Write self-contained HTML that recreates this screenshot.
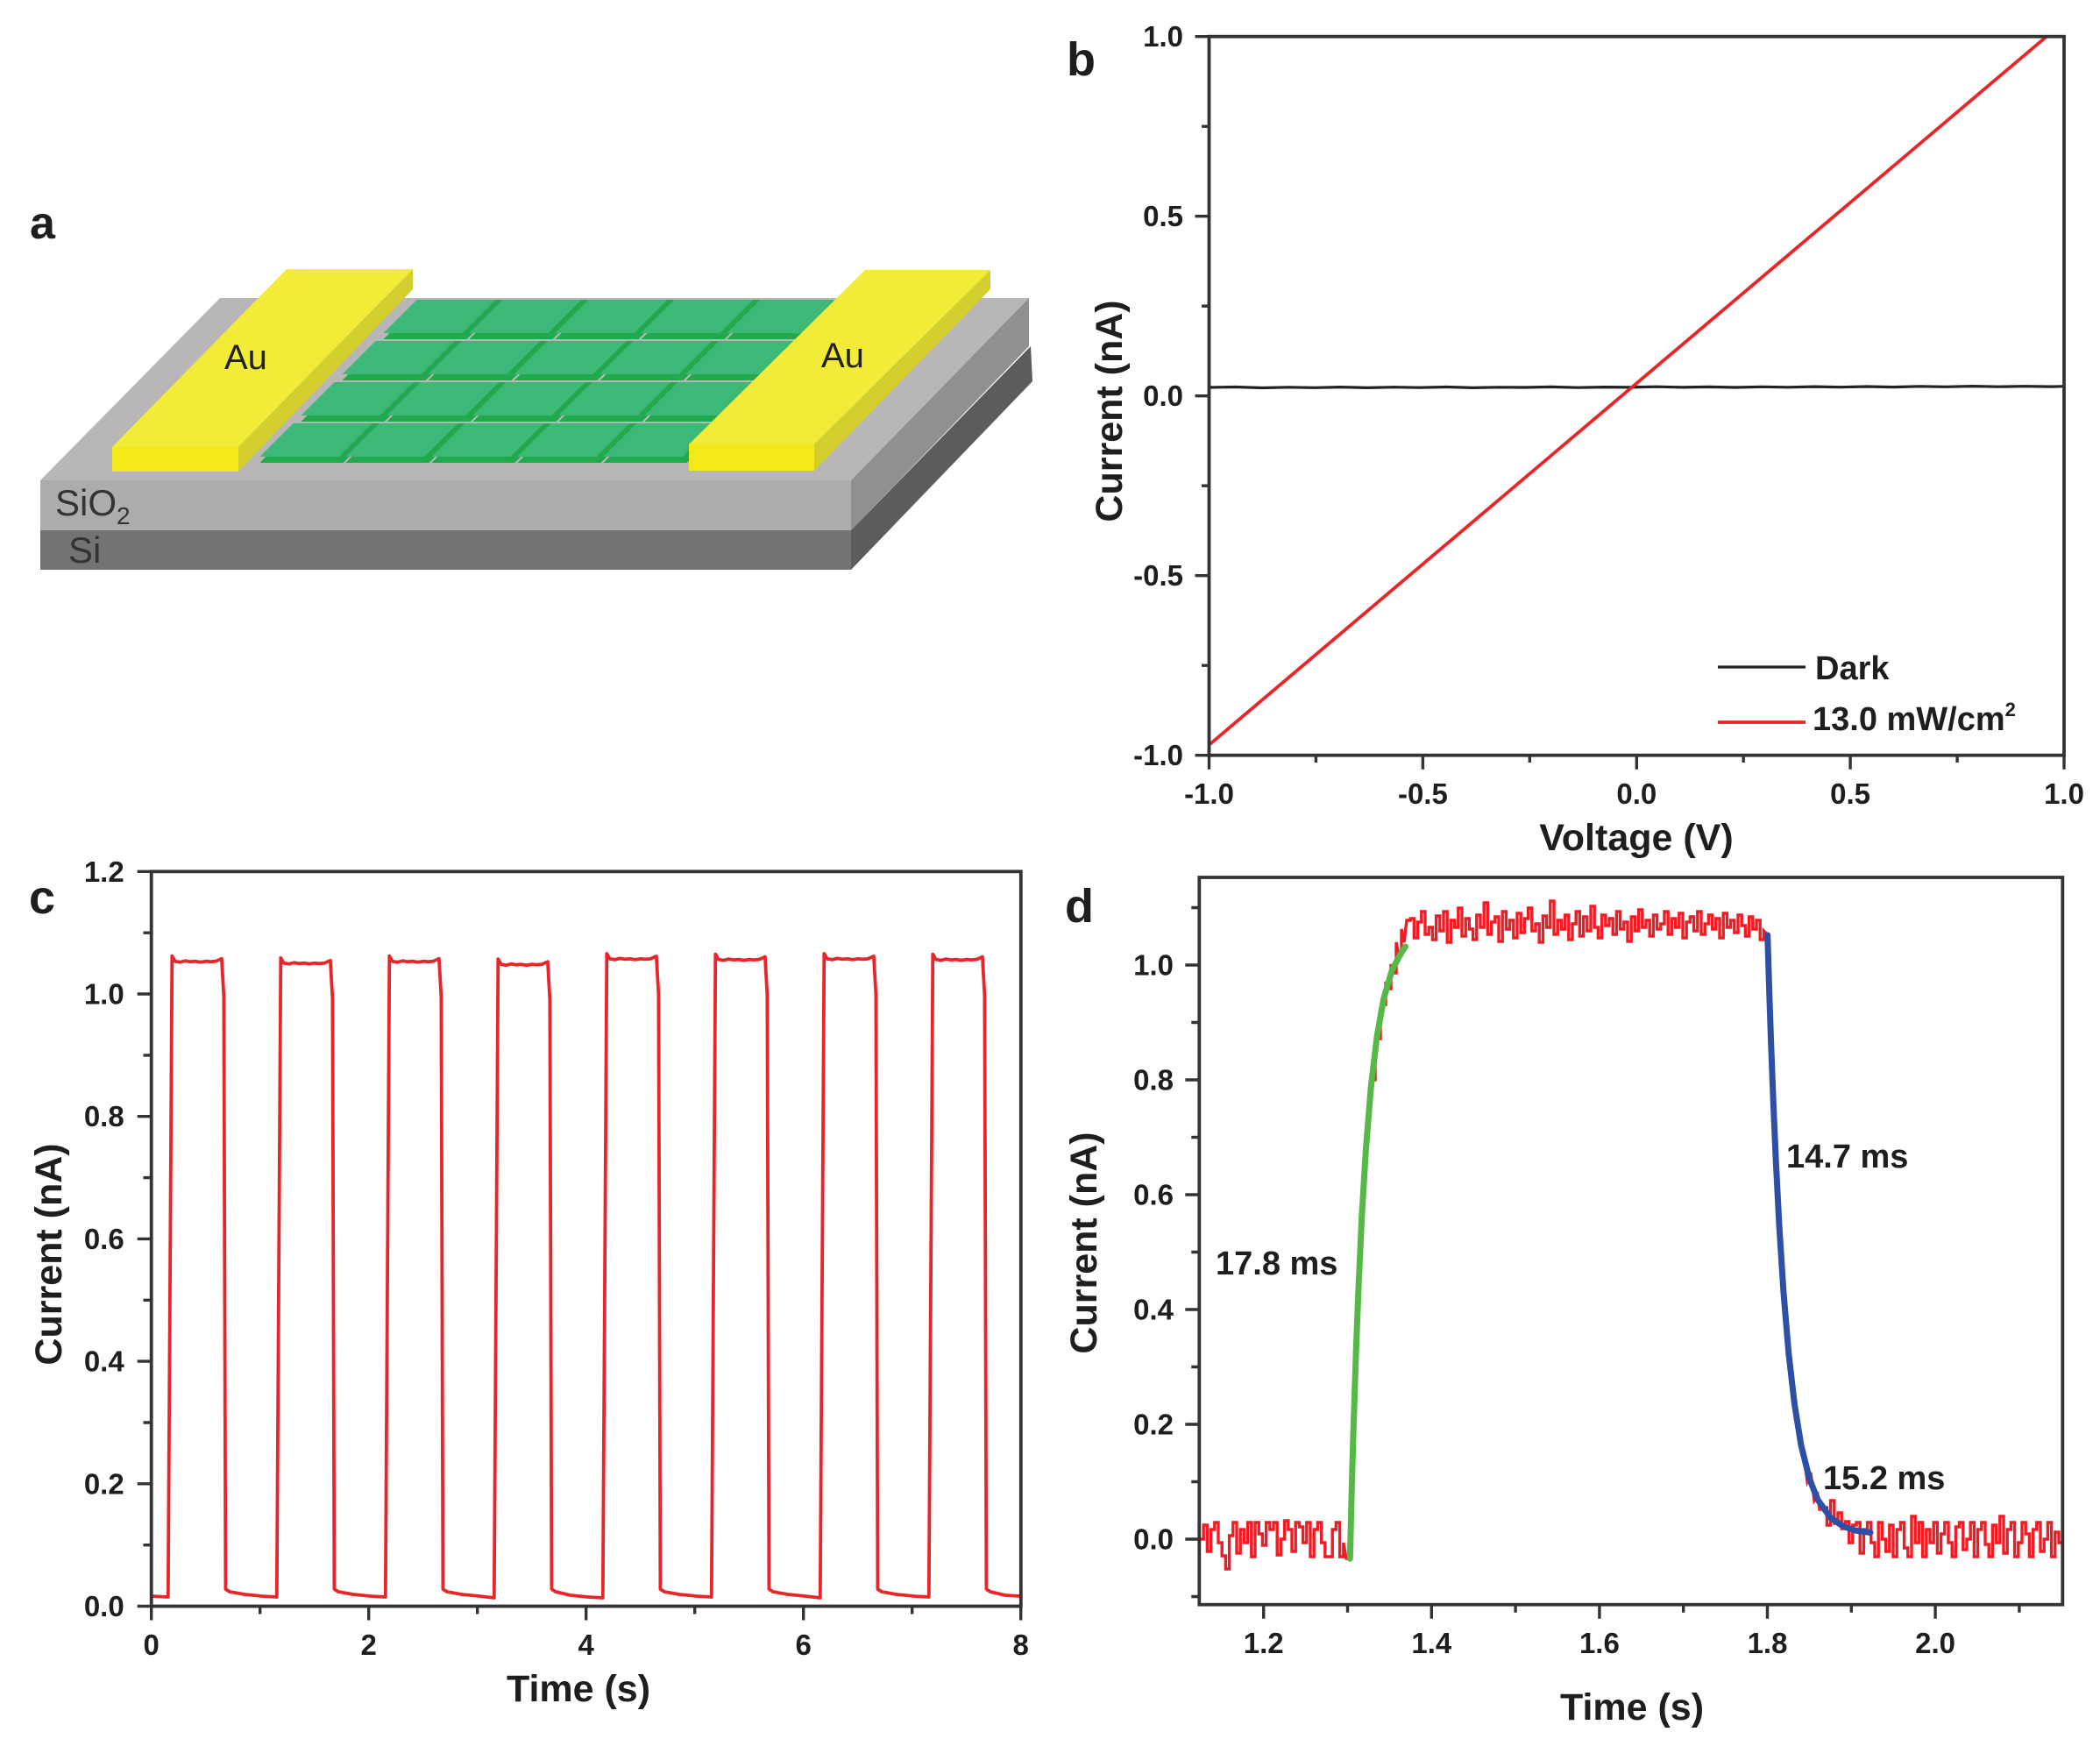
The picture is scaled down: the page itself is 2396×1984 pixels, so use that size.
<!DOCTYPE html>
<html>
<head>
<meta charset="utf-8">
<style>
  html,body{margin:0;padding:0;background:#fff;}
  svg{display:block;}
  text{font-family:"Liberation Sans",Arial,sans-serif;fill:#1e1e1e;}
  .tick{font-size:33px;font-weight:bold;}
  .ax{font-size:43px;font-weight:bold;}
  .pl{font-size:54px;font-weight:bold;}
</style>
</head>
<body>
<svg width="2396" height="1984" viewBox="0 0 2396 1984" xmlns="http://www.w3.org/2000/svg">
  <defs>
    <g id="tile">
      <polygon points="1.5,0 96.5,0 141.5,-45 46.5,-45" fill="#22a94d"/>
      <polygon points="1.5,-7 91.5,-7 129.5,-45 39.5,-45" fill="#3cb877"/>
    </g>
  </defs>

  <!-- ============ PANEL A ============ -->
  <polygon points="46,548 971,548 1174,340 251,340" fill="#b8b6b6"/>
  <polygon points="46,548 971,548 971,605 46,605" fill="#adabab"/>
  <polygon points="46,605 971,605 971,650 46,650" fill="#757272"/>
  <polygon points="971,548 1174,340 1174,395 971,605" fill="#918f8f"/>
  <polygon points="971,605 1176,395 1178,435 971,650" fill="#5d5b5b"/>
  <use href="#tile" x="295" y="528"/><use href="#tile" x="393" y="528"/><use href="#tile" x="491" y="528"/><use href="#tile" x="589" y="528"/><use href="#tile" x="687" y="528"/>
  <use href="#tile" x="342" y="481"/><use href="#tile" x="440" y="481"/><use href="#tile" x="538" y="481"/><use href="#tile" x="636" y="481"/><use href="#tile" x="734" y="481"/>
  <use href="#tile" x="389" y="434"/><use href="#tile" x="487" y="434"/><use href="#tile" x="585" y="434"/><use href="#tile" x="683" y="434"/><use href="#tile" x="781" y="434"/>
  <use href="#tile" x="436" y="387"/><use href="#tile" x="534" y="387"/><use href="#tile" x="632" y="387"/><use href="#tile" x="730" y="387"/><use href="#tile" x="828" y="387"/>
  <polygon points="128,510 272,510 471,307 327,307" fill="#f2eb38"/>
  <polygon points="128,510 272,510 272,538 128,538" fill="#f3e81a"/>
  <polygon points="272,510 471,307 471,330 272,538" fill="#d3cf2e"/>
  <polygon points="786,507 929,507 1130,308 987,308" fill="#f2eb38"/>
  <polygon points="786,507 929,507 929,537 786,537" fill="#f3e81a"/>
  <polygon points="929,507 1130,308 1130,330 929,537" fill="#d3cf2e"/>
  <text x="34" y="272" style="font-size:52px;font-weight:bold;">a</text>
  <text x="256" y="421" style="font-size:40px;fill:#222;">Au</text>
  <text x="937" y="419" style="font-size:40px;fill:#222;">Au</text>
  <text x="63" y="588" style="font-size:42px;fill:#333;">SiO<tspan dy="10" style="font-size:28px;">2</tspan></text>
  <text x="78" y="642" style="font-size:42px;fill:#333;">Si</text>

  <!-- ============ PANEL B ============ -->
  <path d="M1380,442 L1410,441.5 L1440,442.5 L1470,441.8 L1500,442.3 L1530,441.6 L1560,442.4 L1590,441.7 L1620,442.2 L1650,441.5 L1680,442.4 L1710,441.8 L1740,442 L1770,441.4 L1800,442.2 L1830,441.6 L1860,441.9 L1890,441.2 L1920,441.9 L1950,441.4 L1980,442 L2010,441.3 L2040,441.8 L2070,441.1 L2100,441.7 L2130,441 L2160,441.6 L2190,440.8 L2220,441.3 L2250,440.6 L2280,441.2 L2310,440.7 L2340,441.1 L2354,440.8" fill="none" stroke="#222" stroke-width="3.2"/>
  <path d="M1380,849.4 L2335,41.7" fill="none" stroke="#e8262a" stroke-width="3.8"/>
  <rect x="1379.5" y="41.7" width="975.5" height="820" fill="none" stroke="#333" stroke-width="3.8"/>
  <path d="M1363.5,41.7H1379.5 M1363.5,246.7H1379.5 M1363.5,451.7H1379.5 M1363.5,656.7H1379.5 M1363.5,861.7H1379.5 M1371,144.2H1379.5 M1371,349.2H1379.5 M1371,554.2H1379.5 M1371,759.2H1379.5 M1379.5,861.7V877.7 M1623.4,861.7V877.7 M1867.3,861.7V877.7 M2111.1,861.7V877.7 M2355,861.7V877.7 M1501.4,861.7V870 M1745.3,861.7V870 M1989.2,861.7V870 M2233.1,861.7V870" stroke="#333" stroke-width="3.4" fill="none"/>
  <g class="tick" text-anchor="end">
    <text x="1350" y="53.2">1.0</text>
    <text x="1350" y="258.2">0.5</text>
    <text x="1350" y="463.2">0.0</text>
    <text x="1350" y="668.2">-0.5</text>
    <text x="1350" y="873.2">-1.0</text>
  </g>
  <g class="tick" text-anchor="middle">
    <text x="1379.5" y="917">-1.0</text>
    <text x="1623.4" y="917">-0.5</text>
    <text x="1867.3" y="917">0.0</text>
    <text x="2111.1" y="917">0.5</text>
    <text x="2355" y="917">1.0</text>
  </g>
  <text class="ax" x="1867" y="970" text-anchor="middle">Voltage (V)</text>
  <text class="ax" transform="translate(1280,469) rotate(-90)" text-anchor="middle">Current (nA)</text>
  <text class="pl" x="1217" y="86">b</text>
  <path d="M1960,761H2060" stroke="#222" stroke-width="3.2"/>
  <path d="M1960,824H2060" stroke="#e8262a" stroke-width="3.8"/>
  <text x="2071" y="775" style="font-size:38px;font-weight:bold;">Dark</text>
  <text x="2068" y="833" style="font-size:38px;font-weight:bold;">13.0 mW/cm<tspan dy="-16" style="font-size:22px;">2</tspan></text>

  <!-- ============ PANEL C ============ -->
  <path fill="none" stroke="#e8262a" stroke-width="3.8" stroke-linejoin="round" d="
  M173,1821 L191.8,1822 L196.3,1090.7 L199.8,1096.7 l5.8,1 l5.8,-1.5 l5.8,1 l5.8,-0.5 l5.8,1 l5.8,-1 l5.8,0.5 l5.8,-0.5 L252.9,1093.7 L255.4,1137.7 L257.4,1813 L261.9,1816 L278.9,1819 L298.9,1821
  L315.8,1822 L320.3,1092.8 L323.8,1098.8 l5.8,1 l5.8,-1.5 l5.8,1 l5.8,-0.5 l5.8,1 l5.8,-1 l5.8,0.5 l5.8,-0.5 L376.9,1095.8 L379.4,1139.8 L381.4,1813 L385.9,1816 L402.9,1819 L422.9,1821
  L439.8,1822 L444.3,1090.7 L447.8,1096.7 l5.8,1 l5.8,-1.5 l5.8,1 l5.8,-0.5 l5.8,1 l5.8,-1 l5.8,0.5 l5.8,-0.5 L500.9,1093.7 L503.4,1137.7 L505.4,1813 L509.9,1816 L526.9,1819 L546.9,1821
  L563.8,1823 L568.3,1094.2 L571.8,1100.2 l5.8,1 l5.8,-1.5 l5.8,1 l5.8,-0.5 l5.8,1 l5.8,-1 l5.8,0.5 l5.8,-0.5 L624.9,1097.2 L627.4,1141.2 L629.4,1813 L633.9,1816 L650.9,1820 L670.9,1822
  L687.8,1823 L692.3,1087.9 L695.8,1093.9 l5.8,1 l5.8,-1.5 l5.8,1 l5.8,-0.5 l5.8,1 l5.8,-1 l5.8,0.5 l5.8,-0.5 L748.9,1090.9 L751.4,1134.9 L753.4,1813 L757.9,1816 L774.9,1819 L794.9,1821
  L811.8,1822 L816.3,1088.6 L819.8,1094.6 l5.8,1 l5.8,-1.5 l5.8,1 l5.8,-0.5 l5.8,1 l5.8,-1 l5.8,0.5 l5.8,-0.5 L872.9,1091.6 L875.4,1135.6 L877.4,1813 L881.9,1816 L898.9,1819 L918.9,1821
  L935.8,1823 L940.3,1087.9 L943.8,1093.9 l5.8,1 l5.8,-1.5 l5.8,1 l5.8,-0.5 l5.8,1 l5.8,-1 l5.8,0.5 l5.8,-0.5 L996.9,1090.9 L999.4,1134.9 L1001.4,1813 L1005.9,1816 L1022.9,1819 L1042.9,1821
  L1059.8,1822 L1064.3,1088.6 L1067.8,1094.6 l5.8,1 l5.8,-1.5 l5.8,1 l5.8,-0.5 l5.8,1 l5.8,-1 l5.8,0.5 l5.8,-0.5 L1120.9,1091.6 L1123.4,1135.6 L1125.4,1813 L1129.9,1816 L1146.9,1820 L1164,1821"/>
  <rect x="172.7" y="994.3" width="992.1" height="838.2" fill="none" stroke="#333" stroke-width="3.8"/>
  <path d="M156.7,1832.5H172.7 M156.7,1692.8H172.7 M156.7,1553.1H172.7 M156.7,1413.4H172.7 M156.7,1273.7H172.7 M156.7,1134H172.7 M156.7,994.3H172.7 M163.5,1762.7H172.7 M163.5,1623H172.7 M163.5,1483.3H172.7 M163.5,1343.6H172.7 M163.5,1203.9H172.7 M163.5,1064.2H172.7 M172.7,1832.5V1848.5 M420.7,1832.5V1848.5 M668.7,1832.5V1848.5 M916.7,1832.5V1848.5 M1164.7,1832.5V1848.5 M296.7,1832.5V1841.5 M544.7,1832.5V1841.5 M792.7,1832.5V1841.5 M1040.7,1832.5V1841.5" stroke="#333" stroke-width="3.4" fill="none"/>
  <g class="tick" text-anchor="end">
    <text x="141.7" y="1844">0.0</text>
    <text x="141.7" y="1704.3">0.2</text>
    <text x="141.7" y="1564.6">0.4</text>
    <text x="141.7" y="1424.9">0.6</text>
    <text x="141.7" y="1285.2">0.8</text>
    <text x="141.7" y="1145.5">1.0</text>
    <text x="141.7" y="1005.8">1.2</text>
  </g>
  <g class="tick" text-anchor="middle">
    <text x="172.7" y="1888">0</text>
    <text x="420.7" y="1888">2</text>
    <text x="668.7" y="1888">4</text>
    <text x="916.7" y="1888">6</text>
    <text x="1164.7" y="1888">8</text>
  </g>
  <text class="ax" x="660" y="1941" text-anchor="middle">Time (s)</text>
  <text class="ax" transform="translate(70,1431) rotate(-90)" text-anchor="middle">Current (nA)</text>
  <text class="pl" x="33" y="1042">c</text>

  <!-- ============ PANEL D ============ -->
  <path fill="none" stroke="#ee1c24" stroke-width="3.4" stroke-linejoin="miter" d="
  M1369,1756 h4.2V1740 h4.2V1770 h4.2V1745 h4.2V1737 h4.2V1760 h4.2V1775 h4.2V1790 h4.2V1752 h4.2V1737 h4.2V1772 h4.2V1745 h4.2V1760 h4.2V1737 h4.2V1776 h4.2V1737 h4.2V1750 h4.2V1763 h4.2V1737 h4.2V1745 h4.2V1737 h4.2V1774 h4.2V1756 h4.2V1735 h4.2V1745 h4.2V1770 h4.2V1737 h4.2V1742 h4.2V1760 h4.2V1737 h4.2V1776 h4.2V1745 h4.2V1737 h4.2V1760 h4.2V1776 h4.2V1776 h4.2V1745 h4.2V1737 h4.2V1776 h4.2V1760
  L1536,1778 L1540,1779 L1542,1700 L1544,1636 L1547,1548 L1550,1472 L1554,1392 L1558,1318 L1562,1262 L1566,1232 h3V1198 L1572,1185 h3V1170 L1578,1146 h3V1120 L1584,1128 h3V1100 L1590,1110 h3V1075 L1596,1090 h3V1060 L1602,1075 L1605,1050
  h4.2V1048 h4.2V1070 h4.2V1052 h4.2V1040 h4.2V1066 h4.2V1058 h4.2V1072 h4.2V1045 h4.2V1062 h4.2V1040
  h4.2V1075 h4.2V1050 h4.2V1058 h4.2V1036 h4.2V1068 h4.2V1048 h4.2V1060 h4.2V1072 h4.2V1044 h4.2V1058
  h4.2V1030 h4.2V1066 h4.2V1052 h4.2V1046 h4.2V1074 h4.2V1040 h4.2V1060 h4.2V1050 h4.2V1070 h4.2V1042
  h4.2V1064 h4.2V1048 h4.2V1036 h4.2V1062 h4.2V1054 h4.2V1075 h4.2V1045 h4.2V1058 h4.2V1028 h4.2V1066
  h4.2V1050 h4.2V1060 h4.2V1044 h4.2V1072 h4.2V1054 h4.2V1040 h4.2V1068 h4.2V1046 h4.2V1062 h4.2V1034
  h4.2V1058 h4.2V1070 h4.2V1044 h4.2V1056 h4.2V1048 h4.2V1066 h4.2V1040 h4.2V1060 h4.2V1052 h4.2V1074
  h4.2V1046 h4.2V1062 h4.2V1038 h4.2V1058 h4.2V1050 h4.2V1068 h4.2V1044 h4.2V1060 h4.2V1054 h4.2V1040
  h4.2V1066 h4.2V1048 h4.2V1058 h4.2V1042 h4.2V1070 h4.2V1052 h4.2V1046 h4.2V1062 h4.2V1040 h4.2V1066
  h4.2V1054 h4.2V1044 h4.2V1060 h4.2V1048 h4.2V1070 h4.2V1042 h4.2V1058 h4.2V1050 h4.2V1064 h4.2V1044
  h4.2V1056 h4.2V1068 h4.2V1046 h4.2V1060 h4.2V1050 h4.2V1072 h4.2V1062
  L2016,1066 L2018.6,1129 L2020.5,1186 L2023.4,1261 L2026.3,1326 L2030.1,1400 L2034.9,1474 L2040.7,1543 L2044,1580 L2047.4,1600 L2050,1622 L2055,1650 L2058,1660 L2062,1690 L2066,1680 L2070,1712 L2074,1706 L2076,1722
  h4.2V1720 h4.2V1740 h4.2V1712 h4.2V1738 h4.2V1726 h4.2V1744 h4.2V1736 h4.2V1760 h4.2V1740 h4.2V1737
  h4.2V1772 h4.2V1745 h4.2V1737 h4.2V1760 h4.2V1776 h4.2V1737 h4.2V1756 h4.2V1770 h4.2V1740 h4.2V1776
  h4.2V1745 h4.2V1737 h4.2V1766 h4.2V1776 h4.2V1730 h4.2V1760 h4.2V1737 h4.2V1776 h4.2V1745 h4.2V1760
  h4.2V1737 h4.2V1772 h4.2V1750 h4.2V1737 h4.2V1760 h4.2V1776 h4.2V1742 h4.2V1737 h4.2V1768 h4.2V1756
  h4.2V1737 h4.2V1776 h4.2V1745 h4.2V1737 h4.2V1762 h4.2V1776 h4.2V1740 h4.2V1760 h4.2V1730 h4.2V1772
  h4.2V1745 h4.2V1737 h4.2V1776 h4.2V1760 h4.2V1737 h4.2V1750 h4.2V1776 h4.2V1745 h4.2V1737 h4.2V1770
  h4.2V1756 h4.2V1737 h4.2V1776 h4.2V1748 h4.2V1760 h4.2V1745"/>
  <path fill="none" stroke="#56b947" stroke-width="7" stroke-linecap="round" stroke-linejoin="round" d="M1540.3,1778.3 L1542.2,1702.3 L1544.1,1634.5 L1547,1546.1 L1549.9,1471.7 L1553.7,1389.2 L1558.5,1310 L1564.3,1239.2 L1571,1182.9 L1578.6,1139.7 L1588.2,1106.9 L1597.8,1088.6 L1603.5,1080"/>
  <path fill="none" stroke="#2e4fa6" stroke-width="7" stroke-linecap="round" stroke-linejoin="round" d="M2016.7,1066.9 L2018.6,1129.2 L2020.5,1185.6 L2023.4,1260.8 L2026.3,1326.3 L2030.1,1399.7 L2034.9,1474 L2040.7,1543 L2047.4,1601.7 L2055,1649 L2064.6,1687.5 L2074.2,1711.4 L2088.6,1731.6 L2103,1741.3 L2117.3,1746.2 L2134,1748.5"/>
  <rect x="1368.3" y="1001" width="985" height="829.7" fill="none" stroke="#333" stroke-width="3.8"/>
  <path d="M1352.3,1756H1368.3 M1352.3,1625H1368.3 M1352.3,1494H1368.3 M1352.3,1363H1368.3 M1352.3,1232H1368.3 M1352.3,1101H1368.3 M1359.3,1821.5H1368.3 M1359.3,1690.5H1368.3 M1359.3,1559.5H1368.3 M1359.3,1428.5H1368.3 M1359.3,1297.5H1368.3 M1359.3,1166.5H1368.3 M1359.3,1035.5H1368.3 M1441.7,1830.7V1846.7 M1633.3,1830.7V1846.7 M1824.9,1830.7V1846.7 M2016.5,1830.7V1846.7 M2208.1,1830.7V1846.7 M1537.5,1830.7V1839.7 M1729.1,1830.7V1839.7 M1920.7,1830.7V1839.7 M2112.3,1830.7V1839.7 M2303.9,1830.7V1839.7" stroke="#333" stroke-width="3.4" fill="none"/>
  <g class="tick" text-anchor="end">
    <text x="1339" y="1767.5">0.0</text>
    <text x="1339" y="1636.5">0.2</text>
    <text x="1339" y="1505.5">0.4</text>
    <text x="1339" y="1374.5">0.6</text>
    <text x="1339" y="1243.5">0.8</text>
    <text x="1339" y="1112.5">1.0</text>
  </g>
  <g class="tick" text-anchor="middle">
    <text x="1441.7" y="1886">1.2</text>
    <text x="1633.3" y="1886">1.4</text>
    <text x="1824.9" y="1886">1.6</text>
    <text x="2016.5" y="1886">1.8</text>
    <text x="2208.1" y="1886">2.0</text>
  </g>
  <text class="ax" x="1862" y="1962" text-anchor="middle">Time (s)</text>
  <text class="ax" transform="translate(1251,1418) rotate(-90)" text-anchor="middle">Current (nA)</text>
  <text class="pl" x="1215" y="1052">d</text>
  <text x="1387" y="1454" style="font-size:38px;font-weight:bold;">17.8 ms</text>
  <text x="2038" y="1332" style="font-size:38px;font-weight:bold;">14.7 ms</text>
  <text x="2080" y="1699" style="font-size:38px;font-weight:bold;">15.2 ms</text>
</svg>
</body>
</html>
